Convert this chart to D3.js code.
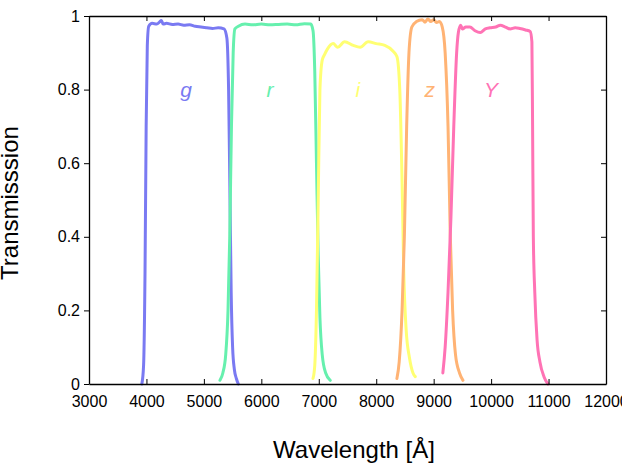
<!DOCTYPE html>
<html>
<head>
<meta charset="utf-8">
<script src="https://cdn.jsdelivr.net/npm/d3@7"></script>
<style>
  body { margin: 0; background: #fff; }
  svg { font-family: "Liberation Sans", Arial, sans-serif; }
</style>
</head>
<body>
<div id="viz"></div>
<script>
// filter transmission curves
const gWave = [3920, 3950, 3975, 3995, 4015, 4040, 4100, 4180, 4230, 4260, 4290, 4350, 4450, 4550, 4650, 4750, 4850, 4950, 5050, 5150, 5250, 5350, 5400, 5430, 5455, 5475, 5500, 5530, 5565, 5600];
const gTrans = [0.0, 0.05, 0.3, 0.7, 0.92, 0.972, 0.98, 0.978, 0.984, 0.988, 0.978, 0.98, 0.977, 0.978, 0.975, 0.976, 0.972, 0.97, 0.968, 0.966, 0.968, 0.965, 0.94, 0.8, 0.5, 0.25, 0.1, 0.04, 0.015, 0.0];

const rWave = [5280, 5330, 5380, 5420, 5450, 5480, 5510, 5540, 5600, 5716, 5850, 6000, 6150, 6300, 6450, 6600, 6750, 6860, 6900, 6930, 6960, 6990, 7020, 7060, 7120, 7200];
const rTrans = [0.01, 0.03, 0.08, 0.2, 0.4, 0.7, 0.9, 0.965, 0.972, 0.978, 0.976, 0.978, 0.976, 0.977, 0.978, 0.976, 0.979, 0.978, 0.96, 0.85, 0.6, 0.35, 0.18, 0.08, 0.03, 0.01];

const iWave = [6900, 6930, 6960, 6990, 7020, 7060, 7100, 7150, 7250, 7330, 7450, 7600, 7720, 7860, 8000, 8150, 8290, 8360, 8410, 8450, 8480, 8520, 8580, 8640, 8680];
const iTrans = [0.015, 0.05, 0.2, 0.5, 0.8, 0.88, 0.895, 0.91, 0.925, 0.915, 0.93, 0.92, 0.915, 0.93, 0.925, 0.92, 0.905, 0.89, 0.8, 0.55, 0.3, 0.15, 0.07, 0.03, 0.02];

const zWave = [8360, 8400, 8450, 8490, 8530, 8570, 8620, 8700, 8800, 8850, 8900, 8950, 9000, 9050, 9100, 9150, 9200, 9250, 9290, 9330, 9380, 9450, 9510];
const zTrans = [0.015, 0.06, 0.2, 0.4, 0.7, 0.9, 0.97, 0.985, 0.99, 0.983, 0.992, 0.985, 0.99, 0.982, 0.985, 0.97, 0.9, 0.7, 0.4, 0.2, 0.08, 0.03, 0.01];

const yWave = [9160, 9200, 9250, 9300, 9350, 9400, 9430, 9470, 9500, 9560, 9630, 9720, 9810, 9900, 9980, 10080, 10160, 10250, 10330, 10420, 10500, 10600, 10680, 10710, 10722, 10735, 10760, 10800, 10850, 10920, 10990];
const yTrans = [0.03, 0.1, 0.25, 0.45, 0.7, 0.9, 0.955, 0.975, 0.965, 0.97, 0.97, 0.96, 0.955, 0.965, 0.968, 0.97, 0.975, 0.97, 0.965, 0.968, 0.966, 0.962, 0.958, 0.93, 0.7, 0.4, 0.25, 0.12, 0.06, 0.02, 0.0];

const bandNames = ['g', 'r', 'i', 'z', 'Y'];
const bandColors = ['#7a7af2', '#66f0ae', '#ffff73', '#ffb374', '#ff73b5'];
const labelWave = [4690, 6150, 7680, 8930, 10000];

const xTicks = [3000, 4000, 5000, 6000, 7000, 8000, 9000, 10000, 11000, 12000];
const yTicks = [0, 0.2, 0.4, 0.6, 0.8, 1];

const bands = [
  [gWave, gTrans], [rWave, rTrans], [iWave, iTrans], [zWave, zTrans], [yWave, yTrans]
];

const w = 622;
const h = 476;
const svg = d3.select('#viz').
append('svg').
attr('width', w).
attr('height', h);

const xScale = d3.scaleLinear().
domain([3000, 12000]).
range([89, 606]);

const yScale = d3.scaleLinear().
domain([0, 1]).
range([384, 16]);

const line = d3.line().
x(d => xScale(d[0])).
y(d => yScale(d[1])).
curve(d3.curveMonotoneX);

bands.forEach((b, k) => {
  const pts = b[0].map((v, i) => [v, b[1][i]]);
  svg.append('path').
  attr('d', line(pts)).
  attr('fill', 'none').
  attr('stroke', bandColors[k]).
  attr('stroke-width', 3).
  attr('stroke-linejoin', 'round').
  attr('stroke-linecap', 'round');
});

svg.selectAll('.band-label').
data(bandNames).
enter().
append('text').
attr('class', 'band-label').
attr('x', (d, i) => xScale(labelWave[i])).
attr('y', yScale(0.8)).
attr('dy', '0.35em').
attr('text-anchor', 'middle').
attr('font-style', 'italic').
attr('font-size', 21).
attr('fill', (d, i) => bandColors[i]).
text(d => d);

// axes: left ticks out, others in
const xAxis = d3.axisBottom(xScale).tickValues(xTicks).tickFormat(d3.format('d')).tickSizeInner(-5).tickSizeOuter(0).tickPadding(12);
const xTop = d3.axisTop(xScale).tickValues(xTicks).tickFormat('').tickSizeInner(-5).tickSizeOuter(0);
const yAxis = d3.axisLeft(yScale).tickValues(yTicks).tickFormat(d => d === 0 || d === 1 ? d : d3.format('.1f')(d)).tickSizeInner(5).tickSizeOuter(0).tickPadding(4);
const yRight = d3.axisRight(yScale).tickValues(yTicks).tickFormat('').tickSizeInner(-5).tickSizeOuter(0);

const gx = svg.append('g').attr('transform', 'translate(0,384)').call(xAxis);
const gxt = svg.append('g').attr('transform', 'translate(0,16)').call(xTop);
const gy = svg.append('g').attr('transform', 'translate(89,0)').call(yAxis);
const gyr = svg.append('g').attr('transform', 'translate(606,0)').call(yRight);

[gx, gxt, gy, gyr].forEach(g => {
  g.selectAll('text').attr('font-size', 16).attr('font-family', '"Liberation Sans", Arial, sans-serif').attr('fill', '#000');
  g.selectAll('line').attr('stroke', '#000');
  g.select('.domain').attr('stroke', '#000').attr('stroke-width', 1.3);
});

svg.append('text').
attr('x', 354).
attr('y', 458).
attr('text-anchor', 'middle').
attr('font-size', 24).
text('Wavelength [Å]');

svg.append('text').
attr('transform', 'translate(18,203) rotate(-90)').
attr('text-anchor', 'middle').
attr('font-size', 24).
text('Transmisssion');
</script>
</body>
</html>
